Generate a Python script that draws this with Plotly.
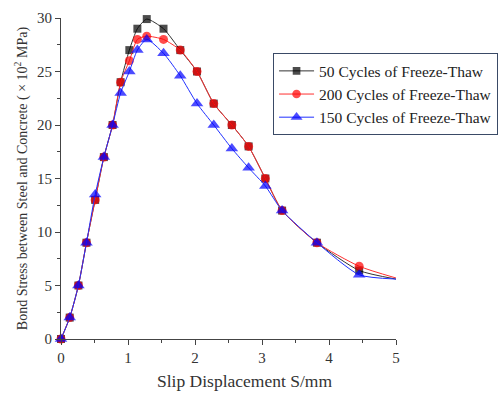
import plotly.graph_objects as go

slip = [0, 0.13, 0.26, 0.38, 0.51, 0.64, 0.77, 0.89, 1.02, 1.14, 1.28, 1.53,
        1.78, 2.03, 2.28, 2.55, 2.80, 3.05, 3.30, 3.82, 4.45, 5.0]
stress_50 = [0, 2, 5, 9, 13, 17, 20, 24, 27, 29, 29.9, 29,
             27, 25, 22, 20, 18, 15, 12, 9, 6.4, 5.6]
stress_200 = [0, 2, 5, 9, 13, 17, 20, 24, 26, 28, 28.3, 28,
              27, 25, 22, 20, 18, 15, 12, 9, 6.8, 5.7]
stress_150 = [0, 2, 5, 9, 13.5, 17, 20, 23, 25, 27, 28, 26.7,
              24.6, 22, 20, 17.8, 16, 14.3, 12, 9, 6.0, 5.6]
names = ["50 Cycles of Freeze-Thaw", "200 Cycles of Freeze-Thaw", "150 Cycles of Freeze-Thaw"]

x_ticks = [0, 1, 2, 3, 4, 5]
y_ticks = [0, 5, 10, 15, 20, 25, 30]

def sizes(n, s):
    return [s] * (n - 1) + [0]

fig = go.Figure()
series = [
    (stress_50, names[0], "#000000", "#333333", "square", 8),
    (stress_200, names[1], "#ff0000", "#ff3030", "circle", 9),
    (stress_150, names[2], "#0000ff", "#2030ff", "triangle-up", 11),
]
for ys, nm, mc, lc, sym, sz in series:
    fig.add_trace(go.Scatter(
        x=slip, y=ys, name=nm, mode="lines+markers",
        line=dict(color=lc, width=1, shape="spline", smoothing=0.6),
        marker=dict(symbol=sym, size=sizes(len(ys), sz), color=mc, line=dict(width=0)),
        cliponaxis=False,
    ))

serif = "Liberation Serif, Times New Roman, serif"
fig.update_layout(
    width=503, height=393,
    margin=dict(l=61, r=107, t=18, b=54, autoexpand=False),
    paper_bgcolor="white", plot_bgcolor="white",
    font=dict(family=serif, color="#222222"),
    showlegend=True,
    legend=dict(
        x=0.633, y=0.89, xanchor="left", yanchor="top",
        bordercolor="#3a4a66", borderwidth=1, bgcolor="white",
        font=dict(family=serif, size=15.5, color="#222222"),
        tracegroupgap=0, itemwidth=35,
    ),
    xaxis=dict(
        range=[0, 5], tickvals=x_ticks, ticktext=[str(v) for v in x_ticks],
        showgrid=False, zeroline=False, showline=True, linecolor="#444444", linewidth=1,
        ticks="outside", ticklen=5, tickcolor="#444444",
        minor=dict(tickvals=[0.5, 1.5, 2.5, 3.5, 4.5], ticks="outside", ticklen=3, tickcolor="#444444"),
        tickfont=dict(family=serif, size=15, color="#333333"),
    ),
    yaxis=dict(
        range=[0, 30], tickvals=y_ticks, ticktext=[str(v) for v in y_ticks],
        showgrid=False, zeroline=False, showline=True, linecolor="#444444", linewidth=1,
        ticks="outside", ticklen=5, tickcolor="#444444",
        minor=dict(tickvals=[2.5, 7.5, 12.5, 17.5, 22.5, 27.5], ticks="outside", ticklen=3, tickcolor="#444444"),
        tickfont=dict(family=serif, size=15, color="#333333"),
        title=dict(text="Bond Stress between Steel and Concrete ( × 10<sup>2</sup> MPa)",
                   font=dict(family=serif, size=14, color="#333333"), standoff=6),
    ),
    annotations=[dict(
        text="Slip Displacement S/mm", xref="paper", yref="paper",
        x=0.549, y=-0.131, xanchor="center", yanchor="middle", showarrow=False,
        font=dict(family=serif, size=17.5, color="#333333"),
    )],
)

fig.write_html("out.html")
